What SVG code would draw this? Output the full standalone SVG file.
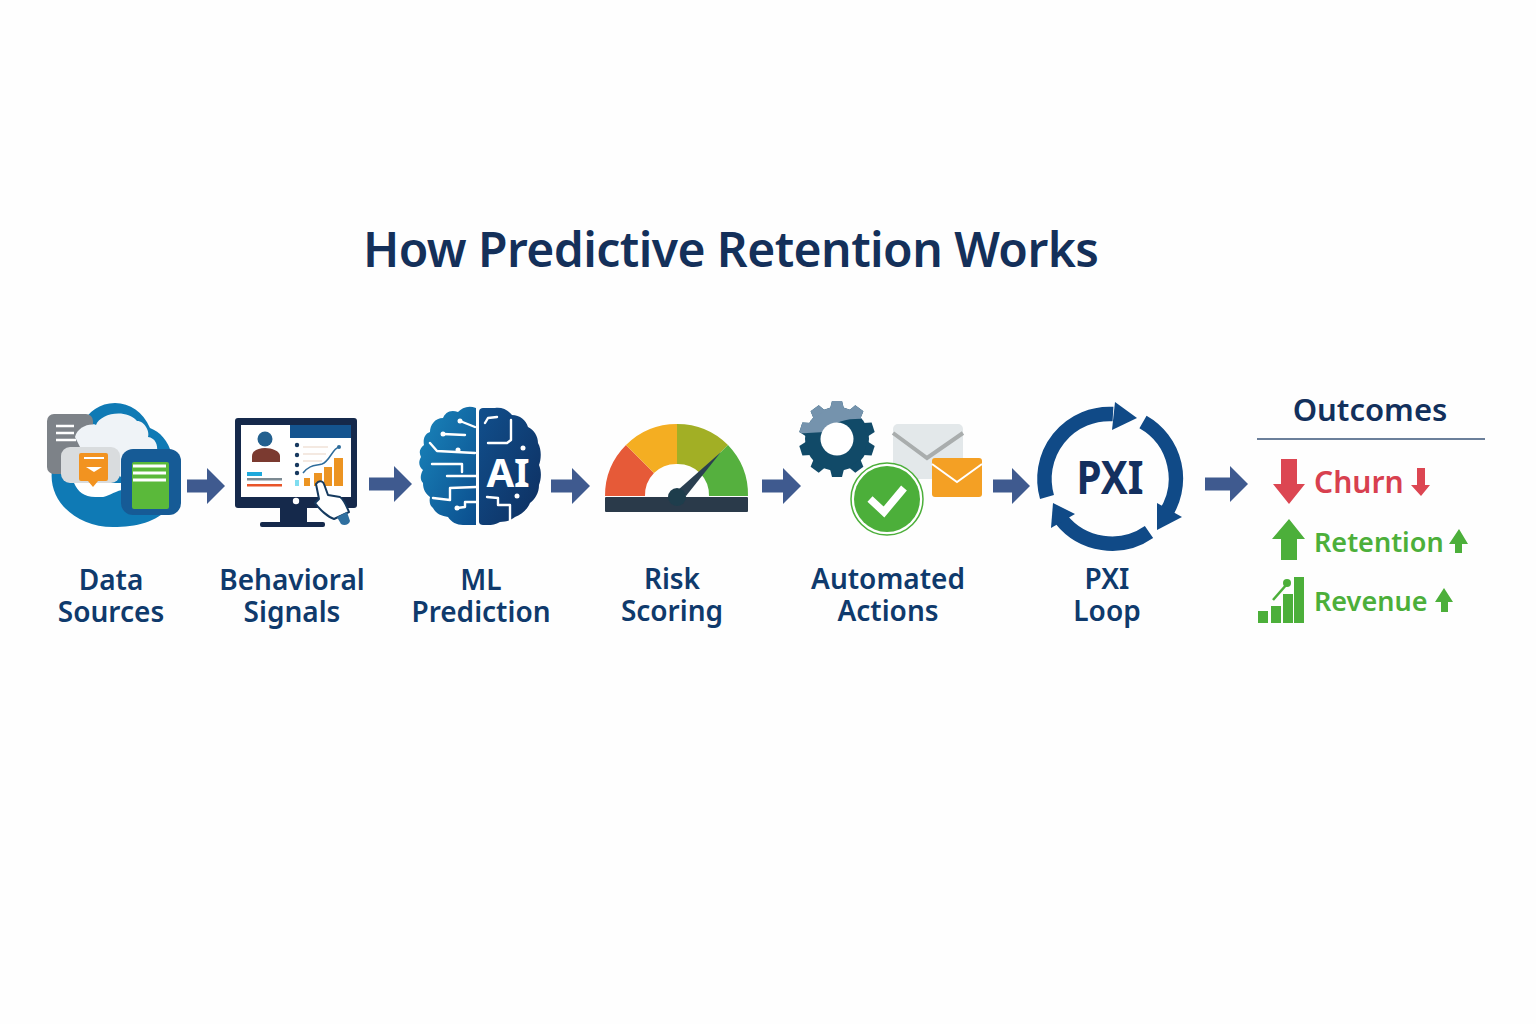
<svg xmlns="http://www.w3.org/2000/svg" width="1536" height="1024" viewBox="0 0 1536 1024">
<style>
text{font-family:"Noto Sans","Open Sans","Liberation Sans",sans-serif;font-weight:600}
.lbl{font-size:28px;fill:#0F3A6C;text-anchor:middle}
.w{fill:none;stroke:#fff;stroke-width:2.4;stroke-linejoin:round;stroke-linecap:round}
.g{fill:#4CAF3A}.r{fill:#DC4652}
.conn{stroke:#3F5A8F;stroke-width:13;fill:none}
.loop{fill:none;stroke:#104A87;stroke-width:14.5}
</style>
<defs>
<marker id="ah" markerUnits="userSpaceOnUse" markerWidth="20" markerHeight="36" refX="0" refY="18" orient="auto"><path d="M0 0L18 18L0 36Z" fill="#3F5A8F"/></marker>
<linearGradient id="bl" x1="0" y1="0" x2="1" y2="1"><stop offset="0" stop-color="#1A86BC"/><stop offset="1" stop-color="#0B4E8E"/></linearGradient>
<linearGradient id="br" x1="0" y1="0" x2="1" y2="1"><stop offset="0" stop-color="#114F8C"/><stop offset="1" stop-color="#0E2F60"/></linearGradient>
<clipPath id="gearTop"><path d="M790 434L825 432C835 420 850 418 868 419L885 395H790Z"/></clipPath>
<path id="tooth" d="M-7 -30L-5 -38H5L7 -30Z"/>
<g id="gearShape"><circle cx="837" cy="439" r="32"/>
<g transform="translate(837 439)"><use href="#tooth"/><use href="#tooth" transform="rotate(36)"/><use href="#tooth" transform="rotate(72)"/><use href="#tooth" transform="rotate(108)"/><use href="#tooth" transform="rotate(144)"/><use href="#tooth" transform="rotate(180)"/><use href="#tooth" transform="rotate(216)"/><use href="#tooth" transform="rotate(252)"/><use href="#tooth" transform="rotate(288)"/><use href="#tooth" transform="rotate(324)"/></g></g>
</defs>
<rect width="1536" height="1024" fill="#FEFEFE"/>
<text x="731" y="267" font-size="48" fill="#14305A" text-anchor="middle" textLength="736" id="title">How Predictive Retention Works</text>

<g id="connectors">
<line class="conn" x1="187" y1="486" x2="207" y2="486" marker-end="url(#ah)"/>
<line class="conn" x1="369" y1="484" x2="394" y2="484" marker-end="url(#ah)"/>
<line class="conn" x1="551" y1="486" x2="572" y2="486" marker-end="url(#ah)"/>
<line class="conn" x1="762" y1="486" x2="783" y2="486" marker-end="url(#ah)"/>
<line class="conn" x1="993" y1="486" x2="1012" y2="486" marker-end="url(#ah)"/>
<line class="conn" x1="1205" y1="484" x2="1230" y2="484" marker-end="url(#ah)"/>
</g>

<g id="data-sources">
<path d="M52 470C48 500 75 527 113 527C140 527 165 520 172 500L172 455C168 440 160 432 150 428C143 412 130 403 115 403C100 403 88 412 82 424C65 430 52 450 52 470Z" fill="#0F7AB5"/>
<path d="M75 437C77 428 88 423 96 425C100 414 125 408 137 421C145 421 150 432 148 437C155 438 158 444 157 452L125 480L85 450Z" fill="#EFF3F7"/>
<path d="M74 483H122L122 490C112 492 108 498 98 497C85 498 78 492 74 483Z" fill="#fff"/>
<rect x="47" y="414" width="46" height="60" rx="7" fill="#7D8288"/>
<path d="M75 437C77 428 88 423 96 425L96 447H80Z" fill="#EFF3F7"/>
<path d="M56 426H74M56 433H74M56 440H76" stroke="#fff" stroke-width="2.5"/>
<rect x="61" y="447" width="59" height="36" rx="9" fill="#D9DCDE"/>
<path d="M79 455a2 2 0 0 1 2-2h25a2 2 0 0 1 2 2v24a2 2 0 0 1-2 2H98L93 487L88 481H81a2 2 0 0 1-2-2Z" fill="#F29320"/>
<path d="M84 458H104" stroke="#fff" stroke-width="2"/>
<path d="M86 467H102L94 472Z" fill="#fff"/>
<rect x="121" y="449" width="60" height="66" rx="12" fill="#165B96"/>
<rect x="132" y="462" width="37" height="47" rx="2" fill="#5AB93A"/>
<path d="M133 466H166M133 473H166M133 480H166" stroke="#fff" stroke-width="3"/>
<text class="lbl"><tspan x="111" y="590">Data</tspan><tspan x="111" y="622">Sources</tspan></text>
</g>

<g id="behavioral-signals">
<rect x="235" y="418" width="122" height="90" rx="3" fill="#15294B"/>
<rect x="241" y="425" width="110" height="72" fill="#fff"/>
<rect x="290" y="425" width="61" height="13" fill="#14548F"/>
<path d="M280 508H307V523H280Z" fill="#15294B"/><rect x="260" y="522" width="65" height="5" rx="2" fill="#15294B"/>
<circle cx="296" cy="501" r="3.2" fill="#fff"/>
<circle cx="265" cy="439" r="7.5" fill="#23608F"/>
<path d="M252 462V456C252 451 258 448 265 448C272 448 280 451 280 456V462Z" fill="#7B3A30"/>
<rect x="247" y="472" width="15" height="4" fill="#1FA9DC"/>
<rect x="247" y="478" width="35" height="2.5" fill="#7C8A92"/>
<rect x="247" y="484" width="35" height="2.5" fill="#E8552A"/>
<g fill="#17395F"><circle cx="297" cy="445" r="2.2"/><circle cx="297" cy="455" r="2.2"/><circle cx="297" cy="465" r="2.2"/><circle cx="297" cy="473" r="2.2"/></g>
<rect x="295" y="480" width="4" height="6" fill="#7FDDF0"/>
<path d="M303 447H328M303 454H326M303 461H322" stroke="#E9D3C4" stroke-width="1.2"/>
<g fill="#EC9422"><rect x="304" y="478" width="6" height="8"/><rect x="314" y="473" width="8" height="13"/><rect x="324" y="467" width="8" height="19"/><rect x="334" y="458" width="9" height="28"/></g>
<path d="M303 473C310 464 316 466 322 464C330 461 332 449 339 447" fill="none" stroke="#2E6C9B" stroke-width="1.5"/><circle cx="339" cy="447" r="2" fill="#2E6C9B"/>
<path d="M316 484C319 480 323 481 324 484L328 495L340 497C343 499 347 507 349 512L334 519C328 517 320 510 315 503L319 499Z" fill="#fff" stroke="#153A5F" stroke-width="2" stroke-linejoin="round"/>
<path d="M337 517L347 512L350 521C349 525 344 526 341 524Z" fill="#2F6F9F"/>
<text class="lbl"><tspan x="292" y="590">Behavioral</tspan><tspan x="292" y="622">Signals</tspan></text>
</g>

<g id="ml-prediction">
<path d="M476 408C468 405 462 408 458 412C450 409 445 413 443 418C435 418 430 425 430 432C424 434 423 440 424 445C419 449 419 453 421 457C418 462 419 467 423 470C420 475 420 480 423 483C423 490 426 494 430 497C429 502 430 506 433 508C436 514 442 516 448 517C451 522 457 525 463 525H476Z" fill="url(#bl)"/>
<path d="M479 412C479 409 481 408 483 408H495C502 407 508 410 512 415C520 415 526 420 528 427C534 430 538 436 538 443C542 450 541 460 539 465C542 472 541 480 539 485C539 493 535 499 530 503C527 510 521 515 515 517C510 521 505 522 500 522C494 526 487 525 483 525C481 525 479 524 479 522Z" fill="url(#br)"/>
<path class="w" d="M443 434L465 435M460 421L475 427M430 443L437 451L475 453M432 464L462 464L462 472M447 476H476M433 498L450 500V488L476 487M457 508L465 507V502H476M485 423L488 418L497 417M511 420V440L507 443H488M487 497L498 498V505H510V520"/>
<g fill="#fff"><circle cx="443" cy="434" r="2.5"/><circle cx="460" cy="421" r="2.5"/><circle cx="458" cy="450" r="2.5"/><circle cx="457" cy="508" r="2.5"/><circle cx="517" cy="496" r="2.5"/><circle cx="523" cy="448" r="2.5"/></g>
<text x="508" y="487" font-size="40" fill="#fff" text-anchor="middle" style="font-weight:700">AI</text>
<text class="lbl"><tspan x="481" y="590">ML</tspan><tspan x="481" y="622">Prediction</tspan></text>
</g>

<g id="risk-scoring">
<path d="M605 496A72 72 0 0 1 626 445L654 473A32 32 0 0 0 645 496Z" fill="#E65A38"/>
<path d="M626 445A72 72 0 0 1 677 424V464A32 32 0 0 0 654 473Z" fill="#F4AE22"/>
<path d="M677 424A72 72 0 0 1 728 445L700 473A32 32 0 0 0 677 464Z" fill="#A2AF25"/>
<path d="M728 445A72 72 0 0 1 748 496H709A32 32 0 0 0 700 473Z" fill="#55B03E"/>
<rect x="605" y="497" width="143" height="15" rx="1" fill="#2A3A4A"/>
<path d="M678 490L721 452L686 496Z" fill="#2A3F50"/>
<circle cx="677" cy="497" r="9" fill="#1E3D4C"/>
<text class="lbl"><tspan x="672" y="589">Risk</tspan><tspan x="672" y="621">Scoring</tspan></text>
</g>

<g id="automated-actions">
<use href="#gearShape" fill="#114A68"/>
<g clip-path="url(#gearTop)"><use href="#gearShape" fill="#7593AD"/></g>
<circle cx="837" cy="439" r="16.5" fill="#fff"/>
<rect x="893" y="424" width="70" height="55" rx="5" fill="#E3E8EA"/>
<path d="M893 433L927 458L963 433" fill="none" stroke="#A9ADAD" stroke-width="4"/>
<rect x="932" y="458" width="50" height="39" rx="3" fill="#F4A024"/>
<path d="M932 464L957 482L982 464" fill="none" stroke="#fff" stroke-width="2"/>
<circle cx="887" cy="499" r="36" fill="#fff" stroke="#4CAF3A" stroke-width="1.5"/>
<circle cx="887" cy="499" r="33" fill="#4CAF3A"/>
<path d="M870 499L884 512L904 488" fill="none" stroke="#fff" stroke-width="7.5"/>
<text class="lbl"><tspan x="888" y="589">Automated</tspan><tspan x="888" y="621">Actions</tspan></text>
</g>

<g id="pxi-loop">
<path class="loop" d="M1047 497A65 65 0 0 1 1113 414"/>
<path d="M1115 402L1137 418L1112 430Z" fill="#104A87"/>
<path class="loop" d="M1143 422A65 65 0 0 1 1164 516"/>
<path d="M1157 503L1182 517L1157 530Z" fill="#104A87"/>
<path class="loop" d="M1149 532A65 65 0 0 1 1061 519"/>
<path d="M1053 503L1075 514L1051 528Z" fill="#104A87"/>
<text x="1110" y="494" font-size="47" fill="#14305F" text-anchor="middle" style="font-weight:700" textLength="67" lengthAdjust="spacingAndGlyphs">PXI</text>
<text class="lbl"><tspan x="1107" y="589">PXI</tspan><tspan x="1107" y="621">Loop</tspan></text>
</g>

<g id="outcomes">
<text x="1370" y="421" font-size="31" fill="#12305C" text-anchor="middle">Outcomes</text>
<line x1="1257" y1="439" x2="1485" y2="439" stroke="#3A5578" stroke-width="1.3"/>
<path class="r" d="M1281 459H1297V484H1305L1289 504L1273 484H1281Z"/>
<text x="1314" y="493" font-size="30" fill="#D8404F">Churn</text>
<path class="r" d="M1417 468H1425V485H1430L1421 496L1411 485H1417Z"/>
<path class="g" d="M1289 519L1305 539H1297V560H1281V539H1272Z"/>
<text x="1314" y="552" font-size="27" fill="#4CAF3A">Retention</text>
<path class="g" d="M1459 529L1468 544H1462V553H1455V544H1449Z"/>
<g class="g"><rect x="1258" y="611" width="10" height="12"/><rect x="1271" y="606" width="10" height="17"/><rect x="1283" y="594" width="10" height="29"/><rect x="1294" y="577" width="10" height="46"/><circle cx="1287" cy="583" r="4"/></g>
<path d="M1273 600L1287 584" stroke="#4CAF3A" stroke-width="2.5"/>
<text x="1314" y="611" font-size="27" fill="#4CAF3A">Revenue</text>
<path class="g" d="M1444 588L1453 602H1448V612H1441V602H1435Z"/>
</g>
</svg>
